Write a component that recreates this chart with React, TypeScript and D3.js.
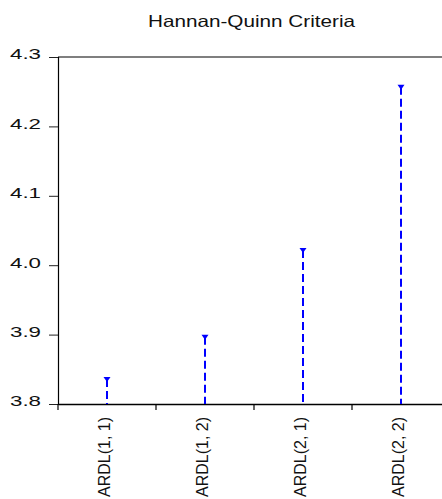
import React, { useRef, useEffect } from "react";
import * as d3 from "d3";

const models = ["ARDL(1, 1)", "ARDL(1, 2)", "ARDL(2, 1)", "ARDL(2, 2)"];
const hqValues = [3.836, 3.897, 4.022, 4.257];
const yTicks = [3.8, 3.9, 4.0, 4.1, 4.2, 4.3];

const App = () => {
    const ref = useRef<SVGSVGElement>(null);

    useEffect(() => {
        const svg = d3.select(ref.current);
        svg.selectAll("*").remove();

        const width = 442;
        const height = 499;
        const margin = { top: 57, left: 58, bottom: 404 };
        const font = "Arial, 'Liberation Sans', sans-serif";

        svg.attr("width", width).attr("height", height).style("background", "#fff");

        const x = d3.scaleBand<string>()
            .domain(models)
            .range([margin.left, margin.left + 98 * 4]);

        const y = d3.scaleLinear()
            .domain([3.8, 4.3])
            .range([margin.bottom, margin.top]);

        // title is drawn wide, like the original export
        svg.append("text")
            .attr("x", 148)
            .attr("y", 27)
            .attr("textLength", 207)
            .attr("lengthAdjust", "spacingAndGlyphs")
            .style("font-family", font)
            .style("font-size", "16.5px")
            .attr("fill", "#111")
            .text("Hannan-Quinn Criteria");

        // top frame line
        svg.append("line")
            .attr("x1", margin.left).attr("x2", width)
            .attr("y1", y(4.3)).attr("y2", y(4.3))
            .attr("stroke", "#555").attr("stroke-width", 1.5);

        const yAxis = svg.append("g")
            .attr("transform", `translate(${margin.left},0)`)
            .call(d3.axisLeft(y).tickValues(yTicks).tickFormat(d3.format(".1f")).tickSize(9).tickPadding(8));
        yAxis.select(".domain").attr("stroke", "#000").attr("stroke-width", 1.2);
        yAxis.selectAll(".tick line").attr("stroke", "#222");
        yAxis.selectAll("text")
            .attr("dy", "0.32em")
            .attr("y", -3)
            .attr("textLength", 31)
            .attr("lengthAdjust", "spacingAndGlyphs")
            .style("font-family", font)
            .style("font-size", "15px")
            .attr("fill", "#111");

        const xAxis = svg.append("g")
            .attr("transform", `translate(0,${margin.bottom})`)
            .call(d3.axisBottom(x).tickValues([]).tickSizeOuter(0));
        xAxis.select(".domain").attr("stroke", "#000").attr("stroke-width", 1.5);

        // category separators on the x axis
        xAxis.selectAll(".sep")
            .data(models)
            .enter()
            .append("line")
            .attr("x1", d => x(d)!).attr("x2", d => x(d)!)
            .attr("y1", 0).attr("y2", 6)
            .attr("stroke", "#000").attr("stroke-width", 1.2);

        xAxis.selectAll(".lbl")
            .data(models)
            .enter()
            .append("text")
            .attr("transform", d => `translate(${x(d)! + x.bandwidth() / 2 + 3},13) rotate(-90)`)
            .attr("text-anchor", "end")
            .attr("textLength", 80)
            .attr("lengthAdjust", "spacingAndGlyphs")
            .style("font-family", font)
            .style("font-size", "17px")
            .attr("fill", "#111")
            .text(d => d);

        const cx = (d: string) => x(d)! + x.bandwidth() / 2;

        svg.selectAll(".stem")
            .data(models)
            .enter()
            .append("line")
            .attr("x1", cx).attr("x2", cx)
            .attr("y1", (d, i) => y(hqValues[i]))
            .attr("y2", y(3.8))
            .attr("stroke", "#0000ff")
            .attr("stroke-width", 2)
            .attr("stroke-dasharray", "8,4");

        svg.selectAll(".mark")
            .data(models)
            .enter()
            .append("path")
            .attr("d", (d, i) => {
                const px = cx(d);
                const py = y(hqValues[i]);
                return `M${px - 3.5},${py - 2}L${px + 3.5},${py - 2}L${px},${py + 3}Z`;
            })
            .attr("fill", "#0000ff");
    }, []);

    return <svg ref={ref} style={{ position: "absolute", left: 0, top: 0 }}></svg>;
};

export default App;
